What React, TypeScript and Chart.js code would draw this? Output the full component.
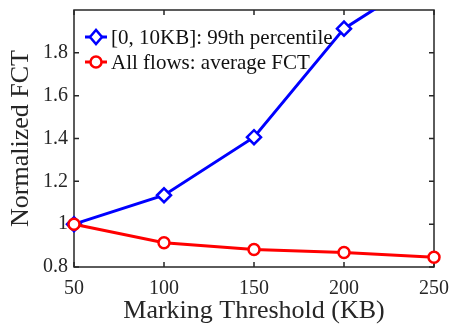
import React, { useEffect, useRef } from "react";
import { Chart, registerables } from "chart.js";

Chart.register(...registerables);

const thresholds = [50, 100, 150, 200, 250];
const smallFlows99 = [1.0, 1.135, 1.406, 1.913, 2.18];
const allFlowsAvg = [1.0, 0.913, 0.882, 0.868, 0.846];
const xTicks = [50, 100, 150, 200, 250];
const yTicks = [0.8, 1.0, 1.2, 1.4, 1.6, 1.8];
const seriesLabels = ["[0, 10KB]: 99th percentile", "All flows: average FCT"];

const FONT = "'Liberation Serif', 'Times New Roman', serif";
const AXIS = "#262626";

const frame = {
  id: "frame",
  beforeDatasetsDraw(chart: any) {
    const { ctx, chartArea } = chart;
    const { left, right, top, bottom } = chartArea;
    const xs = chart.scales.x;
    const ys = chart.scales.y;
    ctx.save();
    ctx.strokeStyle = AXIS;
    ctx.lineWidth = 1.5;
    ctx.strokeRect(left, top, right - left, bottom - top);
    const tl = 5;
    ctx.beginPath();
    xTicks.forEach((v) => {
      const x = xs.getPixelForValue(v);
      ctx.moveTo(x, bottom);
      ctx.lineTo(x, bottom - tl);
      ctx.moveTo(x, top);
      ctx.lineTo(x, top + tl);
    });
    yTicks.forEach((v) => {
      const y = ys.getPixelForValue(v);
      ctx.moveTo(left, y);
      ctx.lineTo(left + tl, y);
      ctx.moveTo(right, y);
      ctx.lineTo(right - tl, y);
    });
    ctx.stroke();
    ctx.restore();
  },
  afterDraw(chart: any) {
    const { ctx, chartArea } = chart;
    const ds = chart.data.datasets;
    ctx.save();
    ctx.font = `21px ${FONT}`;
    ctx.textBaseline = "middle";
    ctx.textAlign = "left";
    const x0 = chartArea.left + 11;
    const rows = [
      { y: chartArea.top + 27, d: ds[0] },
      { y: chartArea.top + 52, d: ds[1] },
    ];
    rows.forEach(({ y, d }) => {
      ctx.strokeStyle = d.borderColor;
      ctx.lineWidth = 3;
      ctx.beginPath();
      ctx.moveTo(x0, y);
      ctx.lineTo(x0 + 22, y);
      ctx.stroke();
      ctx.lineWidth = 2.5;
      ctx.beginPath();
      const cx = x0 + 11;
      if (d.pointStyle === "rectRot") {
        const r = 7;
        ctx.moveTo(cx - r + 1, y);
        ctx.lineTo(cx, y - r);
        ctx.lineTo(cx + r - 1, y);
        ctx.lineTo(cx, y + r);
        ctx.closePath();
      } else {
        ctx.arc(cx, y, 5.5, 0, Math.PI * 2);
      }
      ctx.fillStyle = "#fff";
      ctx.fill();
      ctx.stroke();
      ctx.fillStyle = "#111";
      ctx.fillText(d.label, x0 + 26, y + 1);
    });
    ctx.restore();
  },
};

export default function App() {
  const ref = useRef<HTMLCanvasElement | null>(null);
  useEffect(() => {
    document.body.style.margin = "0";
    const canvas = ref.current!;
    const chart = new Chart(canvas, {
      type: "line",
      data: {
        datasets: [
          {
            label: seriesLabels[0],
            data: thresholds.map((x, i) => ({ x, y: smallFlows99[i] })),
            borderColor: "#0000ff",
            backgroundColor: "#ffffff",
            borderWidth: 3,
            pointStyle: "rectRot",
            pointRadius: 7,
            pointBorderWidth: 2.5,
            order: 2,
            clip: { left: 12, right: 12, top: 0, bottom: 12 } as any,
          },
          {
            label: seriesLabels[1],
            data: thresholds.map((x, i) => ({ x, y: allFlowsAvg[i] })),
            borderColor: "#ff0000",
            backgroundColor: "#ffffff",
            borderWidth: 3,
            pointStyle: "circle",
            pointRadius: 5.5,
            pointBorderWidth: 2.5,
            order: 1,
            clip: { left: 12, right: 12, top: 0, bottom: 12 } as any,
          },
        ],
      },
      options: {
        animation: false,
        responsive: false,
        layout: { padding: { top: 10, right: 15, left: 0, bottom: 0 } },
        plugins: { legend: { display: false }, tooltip: { enabled: false } },
        scales: {
          x: {
            type: "linear",
            min: 50,
            max: 250,
            grid: { display: false, drawTicks: false },
            border: { display: false },
            afterFit: (s: any) => {
              s.height = 60;
              s.paddingLeft = 0;
              s.paddingRight = 0;
            },
            afterBuildTicks: (s: any) => {
              s.ticks = xTicks.map((v) => ({ value: v }));
            },
            ticks: {
              color: AXIS,
              padding: 10,
              maxRotation: 0,
              font: { family: FONT, size: 20 },
              callback: (v: any) => String(v),
            },
            title: {
              display: true,
              text: "Marking Threshold (KB)",
              color: AXIS,
              font: { family: FONT, size: 26 },
              padding: { top: 0, bottom: 0 },
            },
          },
          y: {
            type: "linear",
            min: 0.8,
            max: 2.0,
            grid: { display: false, drawTicks: false },
            border: { display: false },
            afterFit: (s: any) => {
              s.width = 74;
              s.paddingTop = 0;
              s.paddingBottom = 0;
            },
            afterBuildTicks: (s: any) => {
              s.ticks = yTicks.map((v) => ({ value: v }));
            },
            ticks: {
              color: AXIS,
              padding: 6,
              font: { family: FONT, size: 20 },
              callback: (v: any) => String(Math.round(v * 10) / 10),
            },
            title: {
              display: true,
              text: "Normalized FCT",
              color: AXIS,
              font: { family: FONT, size: 26 },
              padding: { top: 6, bottom: 0 },
            },
          },
        },
      },
      plugins: [frame],
    });
    return () => chart.destroy();
  }, []);
  return (
    <div style={{ width: 449, height: 327 }}>
      <canvas ref={ref} width={449} height={327} style={{ display: "block" }} />
    </div>
  );
}
